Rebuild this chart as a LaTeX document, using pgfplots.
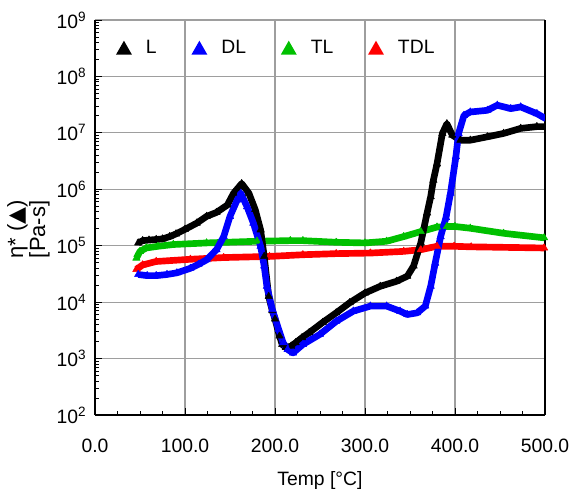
\documentclass[border=0pt]{standalone}
\usepackage{pgfplots}
\pgfplotsset{compat=1.18}
\usepackage{fontspec}
\setmainfont{Liberation Sans}
\newfontfamily\symfont{DejaVu Sans}
\definecolor{cL}{RGB}{0,0,0}
\definecolor{cDL}{RGB}{0,0,255}
\definecolor{cTL}{RGB}{0,192,0}
\definecolor{cTDL}{RGB}{255,0,0}

\pgfplotstableread{
x y
48 1.12e5
53 1.23e5
60 1.26e5
68 1.29e5
75 1.32e5
83 1.45e5
90 1.62e5
100 1.95e5
113 2.51e5
124 3.31e5
135 3.89e5
147 5.25e5
154 8.51e5
163 1.26e6
171 8.51e5
178 4.37e5
184 1.91e5
188 6.46e4
193 1.26e4
197 7.08e3
200 5.01e3
205 2.51e3
208 1.78e3
212 1.58e3
218 1.66e3
223 1.91e3
230 2.34e3
238 2.88e3
253 4.37e3
268 6.46e3
283 9.77e3
300 1.45e4
317 1.91e4
335 2.34e4
347 2.88e4
354 4.37e4
362 1.12e5
369 3.80e5
373 7.41e5
376 1.45e6
380 2.82e6
386 9.77e6
391 1.45e7
397 9.12e6
406 7.41e6
417 7.41e6
436 8.51e6
454 9.77e6
473 1.20e7
491 1.29e7
501 1.29e7
}\dataL

\pgfplotstableread{
x y
48 3.09e4
58 2.95e4
68 2.95e4
80 3.09e4
91 3.31e4
106 3.98e4
115 4.68e4
124 5.62e4
135 8.51e4
143 1.45e5
150 3.31e5
158 6.46e5
162 8.51e5
169 4.90e5
176 2.51e5
184 9.77e4
188 4.37e4
191 1.91e4
197 7.41e3
204 3.31e3
209 1.91e3
214 1.45e3
220 1.26e3
231 1.78e3
250 2.69e3
268 4.57e3
287 6.92e3
306 8.51e3
324 8.51e3
339 6.92e3
347 6.03e3
358 6.46e3
367 8.51e3
373 1.91e4
378 4.90e4
384 1.45e5
390 3.16e5
395 8.51e5
401 3.80e6
404 9.77e6
410 2.04e7
417 2.34e7
436 2.51e7
447 3.09e7
462 2.69e7
473 2.88e7
491 2.19e7
501 1.78e7
}\dataDL

\pgfplotstableread{
x y
46 6.03e4
50 7.94e4
57 9.12e4
70 9.77e4
87 1.05e5
124 1.12e5
180 1.20e5
217 1.23e5
231 1.23e5
268 1.15e5
300 1.12e5
324 1.20e5
343 1.45e5
362 1.78e5
380 2.14e5
391 2.19e5
400 2.19e5
417 2.04e5
454 1.66e5
499 1.38e5
}\dataTL

\pgfplotstableread{
x y
46 3.80e4
53 4.57e4
68 5.25e4
106 5.75e4
143 6.17e4
194 6.46e4
231 6.92e4
268 7.24e4
306 7.41e4
343 7.94e4
362 8.51e4
380 9.77e4
399 9.77e4
418 9.55e4
499 9.12e4
}\dataTDL

\begin{document}
\begin{tikzpicture}
\useasboundingbox (-71.25pt,-60.75pt) rectangle (357.75pt,311.25pt);
\begin{axis}[
    scale only axis,
    width=337.5pt,
    height=296.25pt,
    xmin=0, xmax=500,
    ymode=log,
    ymin=1e2, ymax=1e9,
    axis x line*=bottom,
    xtick={0,100,...,500},
    minor x tick num=3,
    ytickten={2,3,...,9},
    minor ytick={200,300,400,500,600,700,800,900,
        2000,3000,4000,5000,6000,7000,8000,9000,
        2e4,3e4,4e4,5e4,6e4,7e4,8e4,9e4,
        2e5,3e5,4e5,5e5,6e5,7e5,8e5,9e5,
        2e6,3e6,4e6,5e6,6e6,7e6,8e6,9e6,
        2e7,3e7,4e7,5e7,6e7,7e7,8e7,9e7,
        2e8,3e8,4e8,5e8,6e8,7e8,8e8,9e8},
    yticklabel={\pgfmathtruncatemacro\e{round(\tick/2.302585093)}10\textsuperscript{\e}},
    xtick pos=left,
    ytick pos=left,
    tick align=inside,
    major tick length=5pt,
    minor tick length=3pt,
    grid=major,
    major grid style={draw=black!38, line width=0.9pt},
    minor grid style={draw=none},
    axis line style={line width=0.8pt},
    every tick/.style={black, line width=0.6pt},
    /pgf/number format/assume math mode=true,
    tick label style={font=\fontsize{14.5}{17}\selectfont},
    xticklabel style={/pgf/number format/fixed, /pgf/number format/fixed zerofill,
        /pgf/number format/precision=1, yshift=-14.5pt},
    yticklabel style={xshift=-3pt},
    label style={font=\fontsize{14.5}{17}\selectfont},
    xlabel={Temp [°C]},
    xlabel style={at={(axis description cs:0.5,0)}, anchor=center, yshift=-49pt},
    ylabel={η* ({\symfont ▲})\\{}[Pa-s]},
    ylabel style={at={(axis description cs:-0.148,0.47)}, anchor=center, align=center,
        font=\fontsize{16.5}{13}\selectfont},
    legend columns=4,
    legend style={draw=none, fill=none, inner sep=0pt, at={(0.046,0.929)}, anchor=west,
        font=\fontsize{14.5}{17}\selectfont,
        nodes={inner sep=0pt},
        /tikz/every odd column/.append style={column sep=10.5pt},
        /tikz/every even column/.append style={column sep=26pt}},
    legend image code/.code={\fill[#1, draw=none] (0pt,-5pt) -- (12pt,-5pt) -- (6pt,5.5pt) -- cycle;},
    every axis plot/.append style={line width=5pt, line join=round, mark=triangle*, mark size=3.2pt,
        mark options={line width=0.4pt}},
]
\addlegendimage{cL, fill=cL}
\addlegendimage{cDL, fill=cDL}
\addlegendimage{cTL, fill=cTL}
\addlegendimage{cTDL, fill=cTDL}
\addplot[cTL, forget plot] table {\dataTL};
\addplot[cTDL, forget plot] table {\dataTDL};
\addplot[cL, forget plot] table {\dataL};
\addplot[cDL, forget plot] table {\dataDL};
\legend{L, DL, TL, TDL}
\end{axis}
\end{tikzpicture}
\end{document}
